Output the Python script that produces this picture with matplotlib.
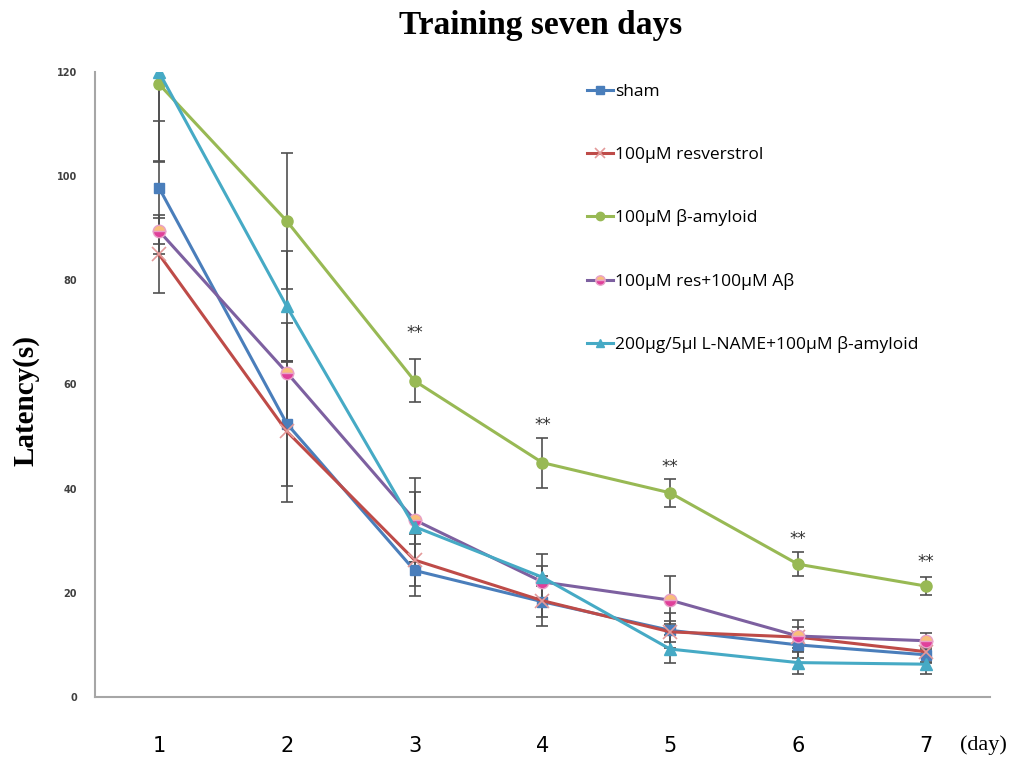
import matplotlib
matplotlib.use("Agg")
import matplotlib.pyplot as plt
import numpy as np

days = [1, 2, 3, 4, 5, 6, 7]
day_labels = ["1", "2", "3", "4", "5", "6", "7"]

labels = ["sham", "100μM resverstrol", "100μM β-amyloid",
          "100μM res+100μM Aβ", "200μg/5μl L-NAME+100μM β-amyloid"]

sham = [97.8, 52.5, 24.3, 18.3, 12.8, 10.0, 8.1]
sham_err = [12.7, 12.0, 5.0, 3.0, 3.3, 2.5, 1.5]
resv = [85.0, 51.0, 26.3, 18.5, 12.5, 11.5, 8.7]
resv_err = [7.5, 13.5, 5.0, 4.8, 2.0, 2.0, 2.0]
abeta = [117.7, 91.4, 60.7, 45.0, 39.2, 25.5, 21.3]
abeta_err = [15.0, 13.0, 4.1, 4.8, 2.7, 2.3, 1.7]
res_ab = [89.5, 62.3, 34.0, 22.1, 18.6, 11.7, 10.8]
res_ab_err = [2.5, 9.6, 8.0, 3.1, 4.6, 3.1, 1.5]
lname = [120.0, 75.0, 32.7, 23.0, 9.2, 6.6, 6.3]
lname_err = [17.0, 10.6, 6.7, 4.4, 2.7, 2.2, 1.8]

star_days = [3, 4, 5, 6, 7]
star_vals = [69.9, 52.2, 44.2, 30.3, 25.9]

fig = plt.figure(figsize=(10.12, 7.58), dpi=100)
ax = fig.add_axes([0.0939, 0.0805, 0.884, 0.8245])

series = [
    (sham, sham_err, dict(color="#4A7EBB", marker="s", ms=7, mfc="#4A7EBB", mec="#4A7EBB")),
    (resv, resv_err, dict(color="#BE4B48", marker="x", ms=10, mec="#E39A9A", mew=1.2)),
    (abeta, abeta_err, dict(color="#98B954", marker="o", ms=8, mfc="#98B954", mec="#98B954")),
    (res_ab, res_ab_err, dict(color="#7D60A0", marker="o", ms=9, mfc="#F9BE7A",
                              mfcalt="#E0409A", fillstyle="top", mec="#E8A0C8")),
    (lname, lname_err, dict(color="#46AAC5", marker="^", ms=8, mfc="#46AAC5", mec="#46AAC5")),
]

handles = []
for (vals, errs, st), lab in zip(series, labels):
    ax.errorbar(days, vals, yerr=errs, fmt="none", ecolor="#505050", elinewidth=1.2,
                capsize=4, capthick=1.2, zorder=2)
for (vals, errs, st), lab in zip(series, labels):
    st = dict(st)
    mfcalt = st.pop("mfcalt", None)
    h, = ax.plot(days, vals, lw=2.2, label=lab, zorder=3, clip_on=True, **st)
    if mfcalt:
        h.set_markerfacecoloralt(mfcalt)
    handles.append(h)

for d, v in zip(star_days, star_vals):
    ax.text(d, v, "**", ha="center", va="center", fontsize=12, color="#303030")

ax.set_xlim(0.5, 7.5)
ax.set_ylim(0, 120)
ax.set_yticks([0, 20, 40, 60, 80, 100, 120])
ax.set_xticks(days)
ax.set_xticklabels(day_labels, family=["Liberation Sans Narrow", "DejaVu Sans"], fontsize=15)
ax.tick_params(axis="x", length=0, pad=28)
ax.tick_params(axis="y", length=0, pad=13, labelsize=7, labelcolor="#404040")
for lab in ax.get_yticklabels():
    lab.set_fontweight("bold")
for s in ["top", "right"]:
    ax.spines[s].set_visible(False)
for s in ["left", "bottom"]:
    ax.spines[s].set_color("#A6A6A6")
    ax.spines[s].set_linewidth(1.5)

fig.text(0.972, 0.017, "(day)", family="Liberation Serif", fontsize=16, ha="center", va="center")
fig.text(0.534, 0.967, "Training seven days", family="Liberation Serif", fontweight="bold",
         fontsize=24, ha="center", va="center")
fig.text(0.026, 0.472, "Latency(s)", family="Liberation Serif", fontweight="bold",
         fontsize=21, ha="center", va="center", rotation=90)

leg = fig.legend(handles=handles, labels=labels, loc="upper left",
                 bbox_to_anchor=(0.565, 0.91), frameon=False,
                 prop=dict(family="Open Sans", size=12.5), handlelength=1.5,
                 handletextpad=0.1, labelspacing=2.68, markerscale=0.75)

fig.savefig("out.png", dpi=100)
